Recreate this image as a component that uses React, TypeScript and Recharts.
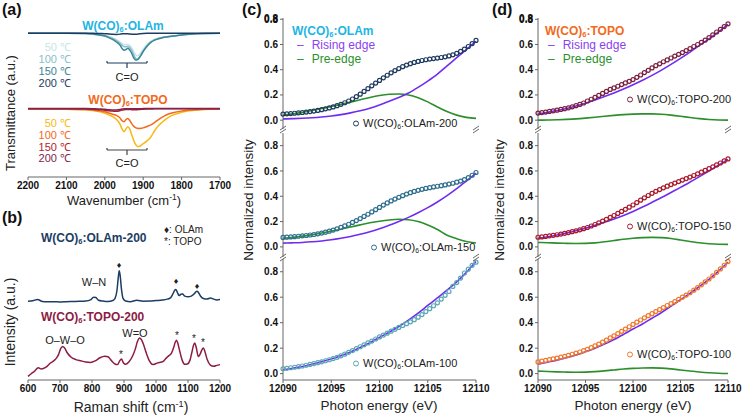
import type { CSSProperties, ReactNode } from "react"
import { Line, LineChart, XAxis, YAxis } from "recharts"

const FONT = "'Liberation Sans', Arial, Helvetica, sans-serif"
const AXIS = "#666"
const TICK = { fontSize: 10, fontWeight: 700, fill: "#111", fontFamily: FONT }
const PURPLE = "#6f2cf0"
const GREEN = "#2b8f2b"

// ---------- (a) FTIR ----------
const WAVENUMBER = [2200, 2100, 2050, 2030, 2010, 2000, 1990, 1980, 1970, 1960, 1955, 1950, 1945, 1940, 1935, 1930, 1925, 1920, 1915, 1910, 1905, 1900, 1890, 1880, 1870, 1860, 1850, 1840, 1830, 1820, 1800, 1780, 1760, 1740, 1700]
const WN_TICKS = [2200, 2100, 2000, 1900, 1800, 1700]
const OLAM_50 = [91.5, 91.5, 91.4, 91.2, 90.7, 90.3, 89.6, 88.7, 87.5, 85.9, 84.9, 84.3, 84.3, 84.4, 83.7, 82.2, 80.0, 77.9, 77.2, 78.0, 79.6, 81.4, 84.4, 86.5, 87.8, 88.5, 89.0, 89.4, 89.7, 90.0, 90.6, 91.0, 91.3, 91.4, 91.5]
const OLAM_100 = [91.5, 91.5, 91.4, 91.1, 90.5, 90.0, 89.2, 88.2, 86.8, 85.0, 83.8, 83.0, 83.0, 83.2, 82.4, 80.6, 78.0, 75.6, 74.8, 75.8, 77.8, 80.0, 83.6, 86.0, 87.4, 88.2, 88.8, 89.3, 89.6, 89.9, 90.5, 91.0, 91.3, 91.4, 91.5]
const OLAM_150 = [91.5, 91.5, 91.4, 91.0, 90.3, 89.8, 88.8, 87.6, 86.0, 83.8, 81.8, 80.8, 81.2, 82.0, 80.8, 78.8, 76.0, 74.5, 74.8, 76.2, 78.0, 80.0, 83.3, 85.8, 87.2, 88.0, 88.7, 89.2, 89.5, 89.8, 90.4, 90.9, 91.2, 91.4, 91.5]
const OLAM_200 = [91.6, 91.6, 91.6, 91.5, 91.4, 91.3, 91.1, 90.9, 90.8, 91.0, 91.2, 91.3, 91.3, 91.2, 91.1, 91.0, 90.9, 90.9, 91.0, 91.2, 91.3, 91.4, 91.5, 91.5, 91.6, 91.6, 91.6, 91.6, 91.6, 91.6, 91.6, 91.6, 91.6, 91.6, 91.6]
const TOPO_50 = [43.3, 43.2, 42.8, 42.2, 41.4, 40.6, 39.6, 38.5, 36.8, 33.5, 30.5, 28.9, 30.5, 32.0, 30.5, 27.0, 23.5, 20.8, 19.4, 19.5, 20.3, 21.2, 23.0, 25.5, 29.6, 32.8, 35.0, 37.0, 38.6, 39.7, 41.3, 42.2, 42.7, 43.0, 43.3]
const TOPO_100 = [43.3, 43.2, 43.0, 42.6, 42.0, 41.5, 40.8, 40.0, 39.2, 37.5, 35.8, 35.2, 36.6, 37.2, 36.0, 34.0, 32.4, 31.5, 31.0, 30.9, 31.0, 31.3, 32.2, 33.2, 34.8, 36.6, 38.2, 39.5, 40.4, 41.1, 42.0, 42.6, 42.9, 43.1, 43.3]
const TOPO_150 = [43.4, 43.4, 43.3, 43.1, 42.8, 42.5, 42.2, 42.0, 41.8, 42.3, 42.7, 42.9, 43.0, 43.0, 43.0, 42.9, 42.9, 42.8, 42.9, 43.0, 43.1, 43.2, 43.3, 43.3, 43.4, 43.4, 43.4, 43.4, 43.4, 43.4, 43.4, 43.4, 43.4, 43.4, 43.4]
const TOPO_200 = [43.6, 43.6, 43.6, 43.5, 43.3, 43.1, 42.9, 42.7, 42.7, 43.0, 43.3, 43.4, 43.5, 43.5, 43.5, 43.5, 43.5, 43.5, 43.5, 43.5, 43.5, 43.6, 43.6, 43.6, 43.6, 43.6, 43.6, 43.6, 43.6, 43.6, 43.6, 43.6, 43.6, 43.6, 43.6]

const FTIR_SERIES = [
  { key: "o50", values: OLAM_50, color: "#c6e4e8" },
  { key: "o100", values: OLAM_100, color: "#86c0ca" },
  { key: "o150", values: OLAM_150, color: "#3d8497" },
  { key: "o200", values: OLAM_200, color: "#1d3c62" },
  { key: "t50", values: TOPO_50, color: "#f7b914" },
  { key: "t100", values: TOPO_100, color: "#f26a1c" },
  { key: "t150", values: TOPO_150, color: "#ad1f2d" },
  { key: "t200", values: TOPO_200, color: "#7d2552" },
]

// ---------- (b) Raman ----------
const RAMAN_TICKS = [600, 700, 800, 900, 1000, 1100, 1200]
const RAMAN_OLAM_X = [600, 615, 630, 645, 660, 680, 700, 720, 740, 760, 780, 795, 805, 812, 820, 835, 850, 865, 872, 878, 882, 885, 888, 892, 897, 905, 920, 940, 960, 980, 1000, 1020, 1035, 1045, 1052, 1058, 1062, 1066, 1072, 1078, 1083, 1090, 1100, 1110, 1118, 1124, 1128, 1133, 1140, 1150, 1160, 1170, 1180, 1190, 1200]
const RAMAN_OLAM_Y = [50.1, 50.5, 51.3, 50.0, 49.8, 49.9, 49.7, 49.9, 50.0, 50.1, 50.3, 51.0, 52.7, 52.5, 50.8, 50.3, 50.0, 50.6, 52.0, 57.0, 65.0, 69.6, 66.5, 58.0, 52.0, 50.3, 49.8, 50.8, 50.2, 50.3, 50.6, 50.9, 51.5, 52.3, 54.5, 57.0, 57.6, 56.2, 53.8, 54.6, 54.8, 53.4, 53.0, 53.4, 54.6, 56.0, 56.6, 55.6, 53.2, 51.8, 51.6, 52.2, 51.5, 51.0, 51.2]
const RAMAN_TOPO_X = [600, 610, 620, 632, 642, 655, 670, 685, 695, 702, 708, 714, 722, 735, 750, 765, 780, 795, 810, 825, 840, 850, 860, 870, 880, 886, 892, 898, 905, 915, 925, 935, 942, 948, 955, 962, 970, 980, 990, 1000, 1010, 1020, 1030, 1040, 1048, 1055, 1060, 1064, 1068, 1074, 1082, 1090, 1098, 1106, 1112, 1117, 1121, 1126, 1132, 1138, 1143, 1148, 1153, 1160, 1170, 1180, 1190, 1200]
const RAMAN_TOPO_Y = [2.3, 4.0, 5.5, 7.8, 7.0, 8.0, 10.8, 13.0, 16.0, 20.0, 21.4, 20.5, 17.5, 14.5, 13.0, 12.2, 11.5, 11.2, 12.2, 14.2, 15.2, 14.8, 12.5, 10.5, 9.8, 12.0, 13.4, 11.0, 10.0, 11.5, 14.5, 19.5, 24.5, 26.8, 25.5, 22.0, 17.0, 12.0, 9.8, 10.5, 11.2, 11.6, 13.5, 15.5, 17.0, 20.5, 24.0, 25.3, 23.5, 18.5, 12.5, 10.0, 10.2, 12.5, 17.5, 22.0, 23.6, 20.5, 15.0, 16.5, 19.0, 20.4, 18.0, 13.0, 9.5, 8.7, 9.3, 9.8]

// ---------- (c)/(d) XANES pre-edge ----------
const ENERGY = [12090, 12090.4, 12090.8, 12091.2, 12091.6, 12092, 12092.4, 12092.8, 12093.2, 12093.6, 12094, 12094.4, 12094.8, 12095.2, 12095.6, 12096, 12096.4, 12096.8, 12097.2, 12097.6, 12098, 12098.4, 12098.8, 12099.2, 12099.6, 12100, 12100.4, 12100.8, 12101.2, 12101.6, 12102, 12102.4, 12102.8, 12103.2, 12103.6, 12104, 12104.4, 12104.8, 12105.2, 12105.6, 12106, 12106.4, 12106.8, 12107.2, 12107.6, 12108, 12108.4, 12108.8, 12109.2, 12109.6, 12110]
const FIT_ENERGY = [12090, 12091, 12092, 12093, 12094, 12095, 12096, 12097, 12098, 12099, 12100, 12101, 12102, 12103, 12104, 12105, 12106, 12107, 12108, 12109, 12110]
const E_TICKS = [12090, 12095, 12100, 12105, 12110]
const Y_TICKS = [0, 0.2, 0.4, 0.6, 0.8]

const OLAM200_OBS = [0.048, 0.05, 0.052, 0.055, 0.058, 0.061, 0.064, 0.068, 0.072, 0.077, 0.083, 0.09, 0.097, 0.105, 0.115, 0.126, 0.138, 0.152, 0.168, 0.186, 0.206, 0.228, 0.25, 0.272, 0.294, 0.315, 0.336, 0.356, 0.375, 0.393, 0.409, 0.424, 0.437, 0.448, 0.458, 0.466, 0.473, 0.479, 0.484, 0.488, 0.492, 0.497, 0.502, 0.509, 0.518, 0.53, 0.545, 0.563, 0.584, 0.607, 0.632]
const OLAM200_RISE = [0.01, 0.012, 0.015, 0.019, 0.025, 0.033, 0.044, 0.058, 0.075, 0.095, 0.12, 0.15, 0.18, 0.215, 0.26, 0.31, 0.365, 0.43, 0.495, 0.56, 0.625]
const OLAM200_PRE = [0.04, 0.05, 0.062, 0.076, 0.092, 0.108, 0.125, 0.143, 0.162, 0.18, 0.195, 0.205, 0.208, 0.2, 0.178, 0.145, 0.105, 0.068, 0.04, 0.022, 0.014]

const OLAM150_OBS = [0.075, 0.077, 0.079, 0.081, 0.084, 0.087, 0.09, 0.094, 0.098, 0.103, 0.109, 0.116, 0.124, 0.133, 0.143, 0.154, 0.166, 0.179, 0.193, 0.208, 0.224, 0.241, 0.258, 0.276, 0.294, 0.312, 0.33, 0.347, 0.363, 0.378, 0.392, 0.405, 0.417, 0.428, 0.438, 0.447, 0.455, 0.462, 0.468, 0.474, 0.479, 0.484, 0.49, 0.496, 0.503, 0.511, 0.52, 0.532, 0.547, 0.566, 0.588]
const OLAM150_RISE = [0.03, 0.032, 0.035, 0.04, 0.047, 0.056, 0.068, 0.082, 0.1, 0.12, 0.143, 0.17, 0.2, 0.233, 0.27, 0.31, 0.355, 0.405, 0.46, 0.52, 0.582]
const OLAM150_PRE = [0.068, 0.075, 0.085, 0.097, 0.11, 0.125, 0.14, 0.157, 0.174, 0.19, 0.203, 0.213, 0.218, 0.215, 0.2, 0.172, 0.137, 0.092, 0.065, 0.043, 0.03]

const OLAM100_OBS = [0.038, 0.042, 0.046, 0.05, 0.055, 0.06, 0.066, 0.072, 0.079, 0.086, 0.093, 0.101, 0.109, 0.118, 0.128, 0.14, 0.153, 0.167, 0.181, 0.196, 0.211, 0.226, 0.241, 0.256, 0.272, 0.288, 0.303, 0.318, 0.333, 0.348, 0.363, 0.378, 0.392, 0.407, 0.424, 0.443, 0.464, 0.487, 0.51, 0.533, 0.556, 0.585, 0.615, 0.645, 0.685, 0.715, 0.75, 0.79, 0.82, 0.85, 0.875]
const OLAM100_RISE = [0.03, 0.042, 0.056, 0.073, 0.093, 0.115, 0.14, 0.17, 0.205, 0.243, 0.285, 0.325, 0.37, 0.42, 0.475, 0.535, 0.595, 0.655, 0.72, 0.795, 0.88]

const TOPO200_OBS = [0.056, 0.06, 0.064, 0.069, 0.074, 0.079, 0.085, 0.091, 0.098, 0.106, 0.115, 0.125, 0.136, 0.152, 0.166, 0.181, 0.196, 0.212, 0.228, 0.244, 0.256, 0.269, 0.282, 0.295, 0.308, 0.322, 0.34, 0.358, 0.377, 0.395, 0.414, 0.432, 0.447, 0.463, 0.478, 0.493, 0.508, 0.522, 0.536, 0.552, 0.568, 0.584, 0.6, 0.617, 0.635, 0.655, 0.677, 0.699, 0.72, 0.742, 0.764]
const TOPO200_RISE = [0.05, 0.062, 0.076, 0.093, 0.113, 0.135, 0.16, 0.187, 0.216, 0.247, 0.28, 0.316, 0.355, 0.397, 0.442, 0.49, 0.54, 0.592, 0.645, 0.7, 0.76]
const TOPO200_PRE = [0, 0.001, 0.003, 0.006, 0.01, 0.016, 0.023, 0.031, 0.038, 0.044, 0.048, 0.05, 0.05, 0.047, 0.04, 0.031, 0.021, 0.012, 0.005, 0.001, 0]

const TOPO150_OBS = [0.076, 0.079, 0.083, 0.087, 0.091, 0.096, 0.101, 0.107, 0.113, 0.12, 0.127, 0.135, 0.144, 0.153, 0.165, 0.177, 0.19, 0.204, 0.218, 0.233, 0.248, 0.264, 0.28, 0.297, 0.314, 0.331, 0.35, 0.369, 0.388, 0.406, 0.423, 0.439, 0.453, 0.467, 0.48, 0.492, 0.504, 0.516, 0.528, 0.54, 0.552, 0.564, 0.577, 0.59, 0.604, 0.618, 0.633, 0.648, 0.663, 0.679, 0.695]
const TOPO150_RISE = [0.068, 0.08, 0.094, 0.11, 0.128, 0.148, 0.17, 0.194, 0.22, 0.248, 0.28, 0.315, 0.352, 0.39, 0.43, 0.47, 0.512, 0.555, 0.6, 0.645, 0.692]
const TOPO150_PRE = [0.035, 0.033, 0.03, 0.028, 0.027, 0.028, 0.032, 0.04, 0.05, 0.06, 0.068, 0.073, 0.075, 0.073, 0.066, 0.055, 0.043, 0.032, 0.025, 0.021, 0.02]

const TOPO100_OBS = [0.092, 0.098, 0.104, 0.11, 0.116, 0.122, 0.129, 0.136, 0.144, 0.152, 0.161, 0.17, 0.18, 0.191, 0.204, 0.218, 0.232, 0.247, 0.263, 0.28, 0.297, 0.314, 0.332, 0.35, 0.368, 0.386, 0.404, 0.421, 0.438, 0.455, 0.471, 0.487, 0.503, 0.519, 0.535, 0.55, 0.566, 0.583, 0.6, 0.617, 0.635, 0.655, 0.675, 0.697, 0.72, 0.743, 0.768, 0.795, 0.822, 0.851, 0.88]
const TOPO100_RISE = [0.075, 0.09, 0.106, 0.125, 0.147, 0.172, 0.2, 0.232, 0.268, 0.308, 0.35, 0.39, 0.435, 0.48, 0.53, 0.58, 0.63, 0.685, 0.74, 0.805, 0.875]
const TOPO100_PRE = [0.02, 0.017, 0.014, 0.012, 0.011, 0.012, 0.016, 0.022, 0.029, 0.036, 0.041, 0.044, 0.045, 0.043, 0.037, 0.029, 0.021, 0.013, 0.007, 0.003, 0.001]

// ---------- layout ----------
type Rect = { x: number; y: number; w: number; h: number }
const PAD = { top: 8, right: 22, bottom: 4, left: 22 }

const RECT_A: Rect = { x: 28, y: 20, w: 192, h: 157 }
const RECT_B: Rect = { x: 28, y: 223, w: 192, h: 157 }
const ROWS = [
  { y: 18, h: 111, domain: [-0.07, 0.81] as [number, number] },
  { y: 133, h: 124, domain: [-0.08, 0.9] as [number, number] },
  { y: 259, h: 121, domain: [-0.05, 0.9] as [number, number] },
]
const C_X = { x: 283, w: 193 }
const D_X = { x: 538, w: 190 }

type Pt = { x: number; y: number }
const zip = (xs: number[], ys: number[]): Pt[] => xs.map((x, i) => ({ x, y: ys[i] }))

function Plot({ rect, yw = 0, xh = 0, children }: { rect: Rect; yw?: number; xh?: number; children: ReactNode }) {
  const width = rect.w + yw + PAD.left + PAD.right
  const height = rect.h + xh + PAD.top + PAD.bottom
  return (
    <div style={{ position: "absolute", left: rect.x - yw - PAD.left, top: rect.y - PAD.top }}>
      <LineChart width={width} height={height} margin={PAD}>
        {children}
      </LineChart>
    </div>
  )
}

// top + right border lines
function frameAxes(xDomain: [number, number], reversed = false) {
  return [
    <XAxis key="xt" xAxisId="top" orientation="top" type="number" domain={xDomain} reversed={reversed} height={0} tick={false} tickLine={false} axisLine={{ stroke: AXIS }} />,
    <YAxis key="yr" yAxisId="right" orientation="right" type="number" domain={[0, 1]} width={0} tick={false} tickLine={false} axisLine={{ stroke: AXIS }} />,
  ]
}

function Txt({
  x, y, children, size = 11, color = "#222", bold = false, align = "left", rotate = false, style,
}: {
  x: number; y: number; children: ReactNode; size?: number; color?: string; bold?: boolean
  align?: "left" | "center" | "right"; rotate?: boolean; style?: CSSProperties
}) {
  const tx = align === "center" ? "-50%" : align === "right" ? "-100%" : "0"
  return (
    <div
      style={{
        position: "absolute", left: x, top: y, whiteSpace: "nowrap", lineHeight: 1,
        transform: `translate(${tx}, -50%)${rotate ? " rotate(-90deg)" : ""}`,
        fontSize: size, color, fontWeight: bold ? 700 : 400, fontFamily: FONT, ...style,
      }}
    >
      {children}
    </div>
  )
}

const Sub = ({ c }: { c: string }) => (
  <span style={{ fontSize: "0.62em", verticalAlign: "-0.3em", lineHeight: 0 }}>{c}</span>
)
const Wco = ({ tail }: { tail: string }) => (
  <>
    W(CO)<Sub c="6" />:{tail}
  </>
)
const Sup = () => <span style={{ fontSize: "0.65em", verticalAlign: "0.55em", lineHeight: 0 }}>-1</span>

function XasPlot({
  col, row, obs, obsColor, rise, pre,
}: {
  col: { x: number; w: number }; row: number; obs: number[]; obsColor: string; rise: number[]; pre?: number[]
}) {
  const r = ROWS[row]
  const last = row === ROWS.length - 1
  return (
    <Plot rect={{ x: col.x, y: r.y, w: col.w, h: r.h }} yw={30} xh={last ? 16 : 0}>
      <XAxis
        dataKey="x" type="number" domain={[12090, 12110]} ticks={E_TICKS} interval={0} hide={!last} height={16}
        tick={TICK} tickSize={3} axisLine={{ stroke: AXIS }} tickLine={{ stroke: AXIS }}
      />
      <YAxis
        type="number" domain={r.domain} ticks={Y_TICKS} interval={0} allowDataOverflow width={30}
        tickFormatter={(v: number) => v.toFixed(1)} tick={TICK} tickSize={3}
        axisLine={{ stroke: AXIS }} tickLine={{ stroke: AXIS }}
      />
      {frameAxes([12090, 12110])}
      <Line
        data={zip(ENERGY, obs)} dataKey="y" stroke="none" isAnimationActive={false}
        dot={{ r: 2, stroke: obsColor, strokeWidth: 1.2, fill: "none" }} activeDot={false}
      />
      {pre && (
        <Line data={zip(FIT_ENERGY, pre)} dataKey="y" type="monotone" stroke={GREEN} strokeWidth={1.6} dot={false} isAnimationActive={false} />
      )}
      <Line data={zip(FIT_ENERGY, rise)} dataKey="y" type="monotone" stroke={PURPLE} strokeWidth={1.6} dot={false} isAnimationActive={false} />
    </Plot>
  )
}

function SampleKey({ x, y, color, tail }: { x: number; y: number; color: string; tail: string }) {
  return (
    <Txt x={x} y={y} size={11} color="#222">
      <span
        style={{
          display: "inline-block", width: 4, height: 4, border: `1.3px solid ${color}`,
          borderRadius: "50%", marginRight: 4, verticalAlign: "middle",
        }}
      />
      <Wco tail={tail} />
    </Txt>
  )
}

function EdgeLegend({ x, y }: { x: number; y: number }) {
  return (
    <>
      <Txt x={x} y={y} size={12} color="#8a3ff0">
        <span style={{ marginRight: 8 }}>–</span>Rising edge
      </Txt>
      <Txt x={x} y={y + 14} size={12} color={GREEN}>
        <span style={{ marginRight: 8 }}>–</span>Pre-edge
      </Txt>
    </>
  )
}

// 0.8 label at the very top of the first row (Recharts drops the edge tick there)
function TopTickLabel({ col }: { col: { x: number } }) {
  const r = ROWS[0]
  const y = r.y + ((r.domain[1] - 0.8) / (r.domain[1] - r.domain[0])) * r.h
  return (
    <Txt x={col.x - 5} y={y} size={10} bold color="#111" align="right">0.8</Txt>
  )
}

function Breaks() {
  const marks: { x: number; y: number }[] = []
  for (const col of [C_X, D_X]) {
    for (const r of ROWS.slice(0, 2)) {
      marks.push({ x: col.x, y: r.y + r.h }, { x: col.x + col.w, y: r.y + r.h })
    }
  }
  return (
    <svg width={743} height={415} style={{ position: "absolute", left: 0, top: 0, pointerEvents: "none" }}>
      {marks.map((m, i) => (
        <g key={i} stroke="#555" strokeWidth={0.9}>
          <line x1={m.x - 3} y1={m.y + 1} x2={m.x + 3} y2={m.y - 3} />
          <line x1={m.x - 3} y1={m.y + 4} x2={m.x + 3} y2={m.y} />
        </g>
      ))}
    </svg>
  )
}

function Bracket({ x1, x2, y, color }: { x1: number; x2: number; y: number; color: string }) {
  const mid = (x1 + x2) / 2
  return (
    <svg width={743} height={415} style={{ position: "absolute", left: 0, top: 0, pointerEvents: "none" }}>
      <g stroke={color} strokeWidth={1.2} fill="none">
        <line x1={x1} y1={y} x2={x2} y2={y} />
        <line x1={x1} y1={y - 2} x2={x1} y2={y} />
        <line x1={x2} y1={y - 2} x2={x2} y2={y} />
        <line x1={mid} y1={y} x2={mid} y2={y + 5} />
      </g>
    </svg>
  )
}

export default function App() {
  return (
    <div style={{ position: "absolute", left: 0, top: 0, width: 743, height: 415, background: "#fff", fontFamily: FONT, overflow: "hidden" }}>
      <style>{`.recharts-cartesian-axis-tick-value { font-weight: 700; font-family: ${FONT}; }`}</style>
      {/* (a) FTIR */}
      <Plot rect={RECT_A} xh={16}>
        <XAxis
          dataKey="x" type="number" domain={[1700, 2200]} reversed ticks={WN_TICKS} interval={0} height={16}
          tick={TICK} tickSize={3} axisLine={{ stroke: AXIS }} tickLine={{ stroke: AXIS }}
        />
        <YAxis type="number" domain={[0, 100]} width={0} tick={false} tickLine={false} axisLine={{ stroke: AXIS }} />
        {frameAxes([1700, 2200], true)}
        {FTIR_SERIES.map((s) => (
          <Line key={s.key} data={zip(WAVENUMBER, s.values)} dataKey="y" type="monotone" stroke={s.color} strokeWidth={1.5} dot={false} isAnimationActive={false} />
        ))}
      </Plot>

      {/* (b) Raman */}
      <Plot rect={RECT_B} xh={16}>
        <XAxis
          dataKey="x" type="number" domain={[600, 1200]} ticks={RAMAN_TICKS} interval={0} height={16}
          tick={TICK} tickSize={3} axisLine={{ stroke: AXIS }} tickLine={{ stroke: AXIS }}
        />
        <YAxis type="number" domain={[0, 100]} width={0} tick={false} tickLine={false} axisLine={{ stroke: AXIS }} />
        <Line data={zip(RAMAN_OLAM_X, RAMAN_OLAM_Y)} dataKey="y" type="monotone" stroke="#1c3d63" strokeWidth={1.5} dot={false} isAnimationActive={false} />
        <Line data={zip(RAMAN_TOPO_X, RAMAN_TOPO_Y)} dataKey="y" type="monotone" stroke="#8c1c44" strokeWidth={1.5} dot={false} isAnimationActive={false} />
      </Plot>

      {/* (c) OLAm XANES */}
      <XasPlot col={C_X} row={0} obs={OLAM200_OBS} obsColor="#1f3a5f" rise={OLAM200_RISE} pre={OLAM200_PRE} />
      <XasPlot col={C_X} row={1} obs={OLAM150_OBS} obsColor="#2e6f8f" rise={OLAM150_RISE} pre={OLAM150_PRE} />
      <XasPlot col={C_X} row={2} obs={OLAM100_OBS} obsColor="#5aa8b5" rise={OLAM100_RISE} />

      {/* (d) TOPO XANES */}
      <XasPlot col={D_X} row={0} obs={TOPO200_OBS} obsColor="#7b1f3f" rise={TOPO200_RISE} pre={TOPO200_PRE} />
      <XasPlot col={D_X} row={1} obs={TOPO150_OBS} obsColor="#a8182a" rise={TOPO150_RISE} pre={TOPO150_PRE} />
      <XasPlot col={D_X} row={2} obs={TOPO100_OBS} obsColor="#f0782a" rise={TOPO100_RISE} pre={TOPO100_PRE} />

      <TopTickLabel col={C_X} />
      <TopTickLabel col={D_X} />

      <Breaks />
      <Bracket x1={107} x2={147} y={63} color="#1c3d63" />
      <Bracket x1={107} x2={147} y={150} color="#444" />

      {/* panel letters */}
      <Txt x={2} y={10} size={16} bold color="#111">(a)</Txt>
      <Txt x={2} y={218} size={16} bold color="#111">(b)</Txt>
      <Txt x={242} y={10} size={16} bold color="#111">(c)</Txt>
      <Txt x={492} y={10} size={16} bold color="#111">(d)</Txt>

      {/* (a) annotations */}
      <Txt x={123} y={26} size={12} bold color="#22b5e3" align="center"><Wco tail="OLAm" /></Txt>
      <Txt x={71} y={47} color="#c6e4e8" align="right">50 ℃</Txt>
      <Txt x={71} y={59} color="#86c0ca" align="right">100 ℃</Txt>
      <Txt x={71} y={71} color="#3d8497" align="right">150 ℃</Txt>
      <Txt x={71} y={83} color="#1d3c62" align="right">200 ℃</Txt>
      <Txt x={127} y={77} align="center">C=O</Txt>
      <Txt x={128} y={100} size={12} bold color="#f26a1c" align="center"><Wco tail="TOPO" /></Txt>
      <Txt x={71} y={123} color="#f7b914" align="right">50 ℃</Txt>
      <Txt x={71} y={135} color="#f26a1c" align="right">100 ℃</Txt>
      <Txt x={71} y={147} color="#ad1f2d" align="right">150 ℃</Txt>
      <Txt x={71} y={158} color="#7d2552" align="right">200 ℃</Txt>
      <Txt x={127} y={163} align="center">C=O</Txt>
      <Txt x={10} y={113} size={13} rotate align="center">Transmittance (a.u.)</Txt>
      <Txt x={124} y={200} size={13} align="center">Wavenumber (cm<Sup />)</Txt>

      {/* (b) annotations */}
      <Txt x={41} y={238} size={12} bold color="#1c3d63"><Wco tail="OLAm-200" /></Txt>
      <Txt x={164} y={230} size={10}>♦: OLAm</Txt>
      <Txt x={164} y={242} size={10}>*: TOPO</Txt>
      <Txt x={119} y={265} size={9} align="center">♦</Txt>
      <Txt x={176} y={281} size={9} align="center">♦</Txt>
      <Txt x={197} y={286} size={9} align="center">♦</Txt>
      <Txt x={94} y={282} size={11} align="center">W–N</Txt>
      <Txt x={41} y={317} size={12} bold color="#8c1c44"><Wco tail="TOPO-200" /></Txt>
      <Txt x={65} y={340} size={11} align="center">O–W–O</Txt>
      <Txt x={135} y={333} size={11} align="center">W=O</Txt>
      <Txt x={121} y={355} size={10} align="center">*</Txt>
      <Txt x={177} y={336} size={10} align="center">*</Txt>
      <Txt x={194} y={339} size={10} align="center">*</Txt>
      <Txt x={203} y={343} size={10} align="center">*</Txt>
      <Txt x={10} y={322} size={14} rotate align="center">Intensity (a.u.)</Txt>
      <Txt x={131} y={407} size={14} align="center">Raman shift (cm<Sup />)</Txt>

      {/* (c) annotations */}
      <Txt x={292} y={31} size={12} bold color="#22b5e3"><Wco tail="OLAm" /></Txt>
      <EdgeLegend x={297} y={45} />
      <SampleKey x={353} y={123} color="#1f3a5f" tail="OLAm-200" />
      <SampleKey x={371} y={247} color="#2e6f8f" tail="OLAm-150" />
      <SampleKey x={353} y={363} color="#5aa8b5" tail="OLAm-100" />
      <Txt x={249} y={200} size={13.5} rotate align="center">Normalized intensity</Txt>
      <Txt x={379} y={406} size={13.5} align="center">Photon energy (eV)</Txt>

      {/* (d) annotations */}
      <Txt x={545} y={31} size={12} bold color="#f26a1c"><Wco tail="TOPO" /></Txt>
      <EdgeLegend x={548} y={45} />
      <SampleKey x={627} y={99} color="#7b1f3f" tail="TOPO-200" />
      <SampleKey x={627} y={226} color="#a8182a" tail="TOPO-150" />
      <SampleKey x={627} y={354} color="#f0782a" tail="TOPO-100" />
      <Txt x={500} y={200} size={13.5} rotate align="center">Normalized intensity</Txt>
      <Txt x={633} y={406} size={13.5} align="center">Photon energy (eV)</Txt>
    </div>
  )
}
